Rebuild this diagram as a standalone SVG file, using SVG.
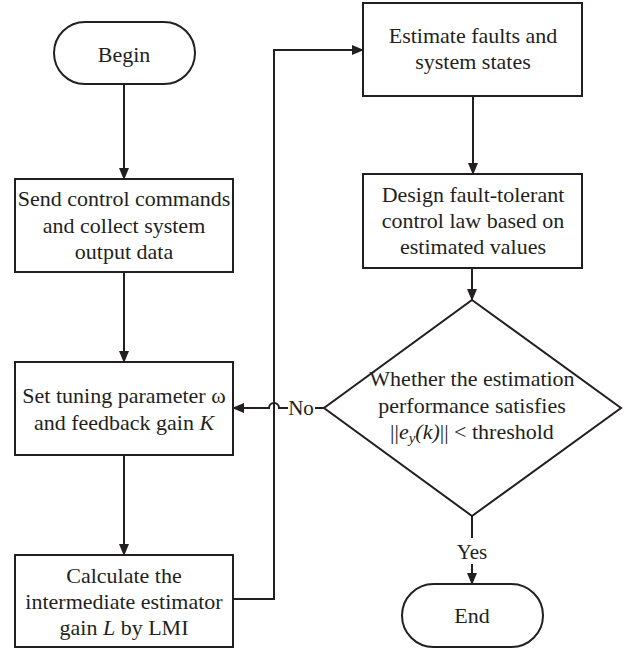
<svg xmlns="http://www.w3.org/2000/svg" width="633" height="652" viewBox="0 0 633 652">
<style>
.s{fill:#fff;stroke:#231f20;stroke-width:2}
.c{fill:none;stroke:#231f20;stroke-width:2}
text{font-family:'Liberation Serif','Times New Roman','DejaVu Serif',serif;font-size:22px;fill:#231f20;text-anchor:middle}
.lb{font-size:21px}
.i{font-style:italic}
</style>
<defs>
<marker id="ah" markerWidth="12" markerHeight="10" refX="11" refY="5" orient="auto" markerUnits="userSpaceOnUse">
<path d="M0,0 L12,5 L0,10 Z" fill="#231f20"/>
</marker>
</defs>
<rect width="633" height="652" fill="#fff"/>
<g id="connectors">
<path class="c" d="M124,84 V179" marker-end="url(#ah)"/>
<path class="c" d="M124,272 V362" marker-end="url(#ah)"/>
<path class="c" d="M124,455 V555" marker-end="url(#ah)"/>
<path class="c" d="M233,599 H274 V50 H363" marker-end="url(#ah)"/>
<path class="c" d="M473,96 V174" marker-end="url(#ah)"/>
<path class="c" d="M472,268 V300" marker-end="url(#ah)"/>
<path class="c" d="M324,408 H315"/>
<path class="c" d="M288,408 H279 A5,5 0 0 0 269,408 H233" marker-end="url(#ah)"/>
<text class="lb" x="301" y="415">No</text>
<path class="c" d="M472,516 V538"/>
<path class="c" d="M472,564 V584" marker-end="url(#ah)"/>
<text class="lb" x="472" y="559">Yes</text>
</g>
<g id="begin">
<rect class="s" x="54" y="22" width="141" height="62" rx="31"/>
<text x="124" y="62">Begin</text>
</g>
<g id="send">
<rect class="s" x="15" y="179" width="218" height="93"/>
<text x="124" y="206">Send control commands</text>
<text x="124" y="232.5">and collect system</text>
<text x="124" y="259">output data</text>
</g>
<g id="set">
<rect class="s" x="15" y="362" width="218" height="93"/>
<text x="124" y="403">Set tuning parameter  ω</text>
<text x="124" y="430">and feedback gain <tspan class="i">K</tspan></text>
</g>
<g id="calc">
<rect class="s" x="15" y="555" width="218" height="92"/>
<text x="124" y="583">Calculate the</text>
<text x="124" y="609">intermediate estimator</text>
<text x="124" y="635">gain <tspan class="i">L</tspan> by LMI</text>
</g>
<g id="estimate">
<rect class="s" x="363" y="3" width="219" height="93"/>
<text x="473" y="42.5">Estimate faults and</text>
<text x="473" y="69">system states</text>
</g>
<g id="design">
<rect class="s" x="363" y="174" width="219" height="94"/>
<text x="473" y="201.5">Design fault-tolerant</text>
<text x="473" y="228">control law based on</text>
<text x="473" y="254">estimated values</text>
</g>
<g id="decision">
<path class="s" d="M472,300 L621,408 L472,516 L324,408 Z"/>
<text x="472" y="386">Whether the estimation</text>
<text x="472" y="412.5">performance satisfies</text>
<text x="472" y="439">||<tspan class="i">e</tspan><tspan class="i" font-size="15" dy="4">y</tspan><tspan class="i" dy="-4">(k)</tspan>|| &lt; threshold</text>
</g>
<g id="end">
<rect class="s" x="402" y="584" width="141" height="63" rx="31.5"/>
<text x="472" y="623">End</text>
</g>
</svg>
